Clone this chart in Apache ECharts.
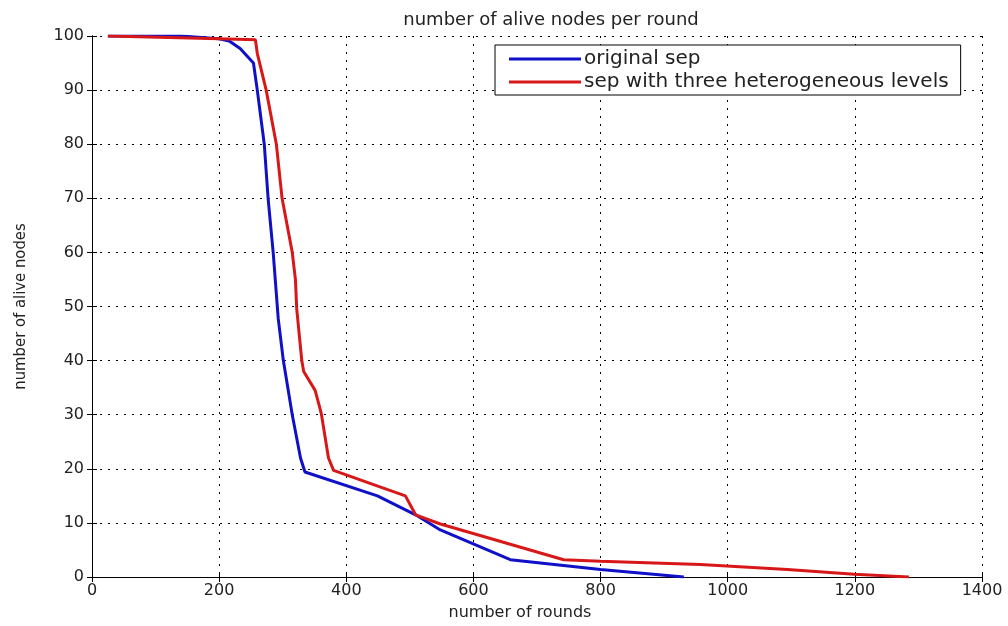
<!DOCTYPE html>
<html>
<head>
<meta charset="utf-8">
<script src="https://cdn.jsdelivr.net/npm/echarts@6/dist/echarts.min.js"></script>
<style>html,body{margin:0;padding:0;background:#fff}#c{width:1008px;height:626px}</style>
</head>
<body>
<div id="c"></div>
<script>
const titleText = 'number of alive nodes per round';
const xName = 'number of rounds';
const yName = 'number of alive nodes';
const seriesNames = ['original sep', 'sep with three heterogeneous levels'];
const xTicks = [0, 200, 400, 600, 800, 1000, 1200, 1400];
const yTicks = [0, 10, 20, 30, 40, 50, 60, 70, 80, 90, 100];

const blueX = [25, 140, 200, 217, 233, 254, 260, 271, 277, 285, 293, 301, 315, 328, 335, 449, 509, 548, 658, 800, 931];
const blueY = [100, 100, 99.5, 99, 97.7, 95, 90, 80, 70, 60, 47.7, 40, 30, 22, 19.4, 15, 11.5, 8.7, 3.2, 1.4, 0];
const redX = [25, 200, 257, 260, 274, 290, 299, 315, 320, 322, 330, 333, 351, 359, 361, 372, 380, 454, 493, 509, 548, 742, 800, 957, 1094, 1199, 1285];
const redY = [100, 99.5, 99.3, 96.8, 90, 80, 70, 60, 55, 49.6, 40, 38, 34.5, 31, 30, 22, 19.7, 16.6, 15, 11.5, 9.8, 3.2, 2.9, 2.3, 1.4, 0.5, 0];

const pair = (xs, ys) => xs.map((x, i) => [x, ys[i]]);
const chart = echarts.init(document.getElementById('c'));
const labelFont = { fontFamily: 'DejaVu Sans', fontSize: 16, color: '#222' };
const gridLine = { show: true, lineStyle: { color: '#000', width: 1, type: [2, 6] } };
const axLine = { show: true, lineStyle: { color: '#000', width: 1 } };
chart.setOption({
  animation: false,
  backgroundColor: '#fff',
  title: { text: titleText, left: 546, textAlign: 'center', top: 6, textStyle: { fontFamily: 'DejaVu Sans', fontSize: 18, fontWeight: 'normal', color: '#222' } },
  grid: { left: 92, right: 26, top: 36, bottom: 45.5 },
  legend: {
    orient: 'vertical', left: 495, top: 45,
    padding: [4, 12, 3, 14], itemGap: 3,
    borderColor: '#000', borderWidth: 1, backgroundColor: '#fff',
    itemWidth: 72, itemHeight: 3, icon: 'rect',
    textStyle: { fontFamily: 'DejaVu Sans', fontSize: 20, color: '#222', padding: [0, 0, 0, -2] },
    data: seriesNames
  },
  xAxis: [
    { type: 'value', min: 0, max: 1400, interval: 200, position: 'bottom',
      name: xName, nameLocation: 'middle', nameGap: 28,
      nameTextStyle: { fontFamily: 'DejaVu Sans', fontSize: 16, color: '#222', padding: [0, 34, 0, 0] },
      axisLine: axLine, axisTick: { show: true, inside: true, length: 5, lineStyle: { color: '#000' } },
      axisLabel: Object.assign({ margin: 6, formatter: v => xTicks.includes(v) ? String(v) : '' }, labelFont),
      splitLine: gridLine },
    { type: 'value', min: 0, max: 1400, interval: 200, position: 'top',
      axisLine: axLine, axisTick: { show: true, inside: true, length: 5, lineStyle: { color: '#000' } },
      axisLabel: { show: false }, splitLine: { show: false } }
  ],
  yAxis: [
    { type: 'value', min: 0, max: 100, interval: 10, position: 'left',
      name: yName, nameLocation: 'middle', nameGap: 63, nameRotate: 90,
      nameTextStyle: { fontFamily: '"DejaVu Sans Condensed", "Liberation Sans Narrow", "Roboto Condensed", "Noto Sans", sans-serif', fontSize: 16.5, color: '#222' },
      axisLine: axLine, axisTick: { show: true, inside: true, length: 5, lineStyle: { color: '#000' } },
      axisLabel: Object.assign({ margin: 8, formatter: v => yTicks.includes(v) ? String(v) : '' }, labelFont),
      splitLine: gridLine },
    { type: 'value', min: 0, max: 100, interval: 10, position: 'right',
      axisLine: axLine, axisTick: { show: true, inside: true, length: 5, lineStyle: { color: '#000' } },
      axisLabel: { show: false }, splitLine: { show: false } }
  ],
  series: [
    { name: seriesNames[0], type: 'line', data: pair(blueX, blueY), showSymbol: false, symbol: 'none',
      itemStyle: { color: '#1010c8' }, lineStyle: { color: '#1010c8', width: 3 }, z: 3 },
    { name: seriesNames[1], type: 'line', data: pair(redX, redY), showSymbol: false, symbol: 'none',
      itemStyle: { color: '#d81818' }, lineStyle: { color: '#d81818', width: 3 }, z: 4 }
  ]
});
</script>
</body>
</html>
